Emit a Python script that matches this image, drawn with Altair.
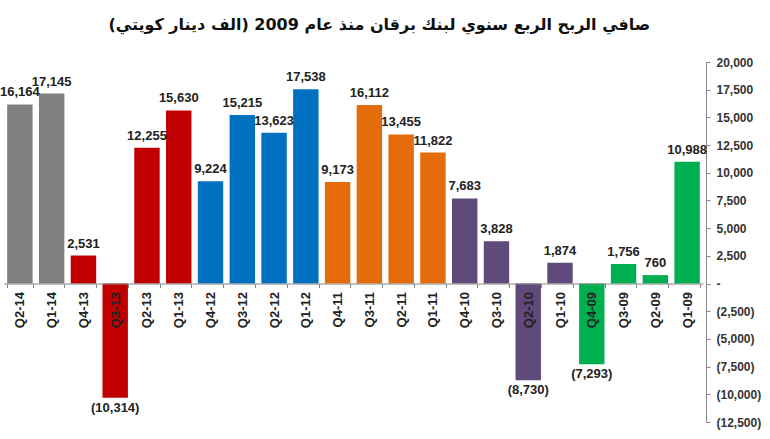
import altair as alt
import pandas as pd

quarters = ["Q2-14", "Q1-14", "Q4-13", "Q3-13", "Q2-13", "Q1-13", "Q4-12", "Q3-12",
            "Q2-12", "Q1-12", "Q4-11", "Q3-11", "Q2-11", "Q1-11", "Q4-10", "Q3-10",
            "Q2-10", "Q1-10", "Q4-09", "Q3-09", "Q2-09", "Q1-09"]
values = [16164, 17145, 2531, -10314, 12255, 15630, 9224, 15215,
          13623, 17538, 9173, 16112, 13455, 11822, 7683, 3828,
          -8730, 1874, -7293, 1756, 760, 10988]
years = ["2014", "2014", "2013", "2013", "2013", "2013", "2012", "2012",
         "2012", "2012", "2011", "2011", "2011", "2011", "2010", "2010",
         "2010", "2010", "2009", "2009", "2009", "2009"]
year_domain = ["2014", "2013", "2012", "2011", "2010", "2009"]
year_colors = ["#7f7f7f", "#c00000", "#0070c0", "#e46c0a", "#604a7b", "#00b050"]
y_ticks = [20000, 17500, 15000, 12500, 10000, 7500, 5000, 2500, 0,
           -2500, -5000, -7500, -10000, -12500]
title_text = "صافي الربح الربع سنوي لبنك برقان منذ عام 2009 (الف دينار كويتي)"

df = pd.DataFrame({"q": quarters, "v": values, "year": years})

W, H = 699, 360
zero_px = H * 20000 / 32500

base = alt.Chart(df).transform_calculate(
    label="datum.v < 0 ? '(' + format(-datum.v, ',') + ')' : format(datum.v, ',')"
).encode(
    x=alt.X("q:N", sort=quarters,
            scale=alt.Scale(paddingInner=0.2, paddingOuter=0.1),
            axis=alt.Axis(title=None, orient="bottom", offset=-(H - zero_px),
                          labelAngle=-90, labelFont="Liberation Sans", labelFontSize=13,
                          labelFontWeight="bold", labelColor="#222222", labelPadding=4,
                          tickSize=4, tickColor="#868686", domainColor="#868686",
                          tickBand="extent", zindex=1, labelBaseline="middle")),
    y=alt.Y("v:Q", scale=alt.Scale(domain=[-12500, 20000], nice=False, zero=False),
            axis=alt.Axis(title=None, orient="right", values=y_ticks, grid=False,
                          labelExpr="datum.value == 0 ? '-' : (datum.value < 0 ? '(' + format(-datum.value, ',') + ')' : format(datum.value, ','))",
                          labelFont="Liberation Sans", labelFontSize=12, labelFontWeight="bold",
                          labelColor="#333333", tickSize=4, tickColor="#868686",
                          labelOverlap=False, labelBound=False, labelFlush=False,
                          domainColor="#868686", labelPadding=6, offset=3)),
)

bars = base.mark_bar().encode(
    y2=alt.datum(0),
    color=alt.Color("year:N", scale=alt.Scale(domain=year_domain, range=year_colors), legend=None),
)

pos_text = base.transform_filter("datum.v >= 0").mark_text(
    baseline="bottom", dy=-5, font="Liberation Sans", fontSize=13, fontWeight="bold", color="#222222"
).encode(text="label:N")

neg_text = base.transform_filter("datum.v < 0").mark_text(
    baseline="top", dy=4, font="Liberation Sans", fontSize=13, fontWeight="bold", color="#222222"
).encode(text="label:N")

chart = alt.layer(bars, pos_text, neg_text).properties(
    width=W, height=H, background="white",
    title=alt.TitleParams(title_text, font="DejaVu Sans", fontSize=16, fontWeight="bold",
                          color="#111111", anchor="middle", frame="bounds", offset=23),
    autosize=alt.AutoSizeParams(type="none"),
    padding={"left": 4, "top": 62, "right": 67, "bottom": 17},
).configure_view(stroke=None).configure_axis(labelOverlap=False)

chart.save("out.html", embed_options={"renderer": "svg", "actions": False})
